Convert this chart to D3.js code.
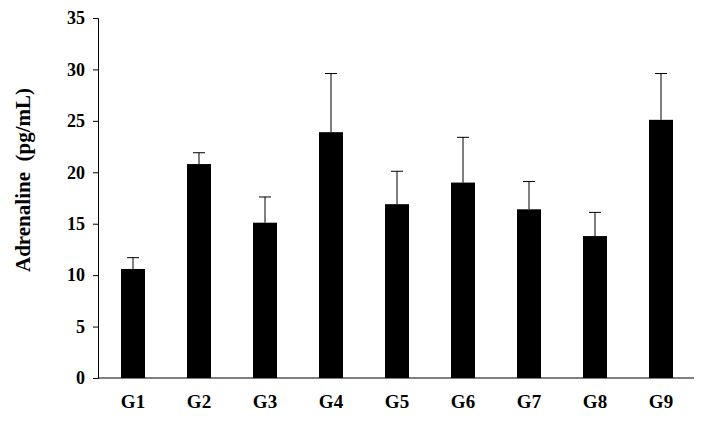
<!DOCTYPE html>
<html><head><meta charset="utf-8">
<script src="https://cdn.jsdelivr.net/npm/d3@7"></script>
<style>body{margin:0;background:#fff}text{font-family:"Liberation Serif",serif;font-weight:bold}</style>
</head><body>
<svg id="chart" width="704" height="426"></svg>
<script>
// chart values
let groups = ['G1', 'G2', 'G3', 'G4', 'G5', 'G6', 'G7', 'G8', 'G9']
let means = [10.6, 20.8, 15.1, 23.9, 16.9, 19.0, 16.4, 13.8, 25.1]
let errors = [1.1, 1.1, 2.5, 5.7, 3.2, 4.4, 2.7, 2.3, 4.5]
let yTicks = [0, 5, 10, 15, 20, 25, 30, 35]

var svg = d3.select("#chart");
var x = d3.scaleBand().domain(groups).range([100, 694]);
var y = d3.scaleLinear().domain([0, 35]).range([378, 18]);
var barW = 24;

// y axis
svg.append("g").attr("transform", "translate(98,0)")
    .call(d3.axisLeft(y).tickValues(yTicks).tickSize(5).tickPadding(8))
    .call(g => g.selectAll("text").style("font-size", "18px").attr("fill", "#000"))
    .call(g => g.selectAll("line,path").attr("stroke", "#000"));
// x axis
svg.append("g").attr("transform", "translate(0,378)")
    .call(d3.axisBottom(x).tickSize(0).tickPadding(17))
    .call(g => g.selectAll("text").style("font-size", "19px").attr("fill", "#000"))
    .call(g => g.select("path").attr("stroke", "#000").attr("d", "M98,0H694"));

// error bars
svg.selectAll(".err").data(groups).enter().append("g").each(function (d, i) {
    var cx = x(d) + x.bandwidth() / 2;
    var g = d3.select(this);
    g.append("line").attr("x1", cx).attr("x2", cx)
        .attr("y1", y(means[i])).attr("y2", y(means[i] + errors[i])).attr("stroke", "#000");
    g.append("line").attr("x1", cx - 6).attr("x2", cx + 6)
        .attr("y1", y(means[i] + errors[i])).attr("y2", y(means[i] + errors[i])).attr("stroke", "#000");
});

// bars
svg.selectAll(".bar").data(groups).enter().append("rect")
    .attr("x", d => x(d) + x.bandwidth() / 2 - barW / 2)
    .attr("width", barW)
    .attr("y", (d, i) => y(means[i]))
    .attr("height", (d, i) => 378 - y(means[i]))
    .attr("fill", "#000");

svg.append("text").attr("transform", "translate(30,180) rotate(-90)")
    .attr("text-anchor", "middle").style("font-size", "21px").style("white-space", "pre")
    .text("Adrenaline  (pg/mL)");
</script>
</body></html>
